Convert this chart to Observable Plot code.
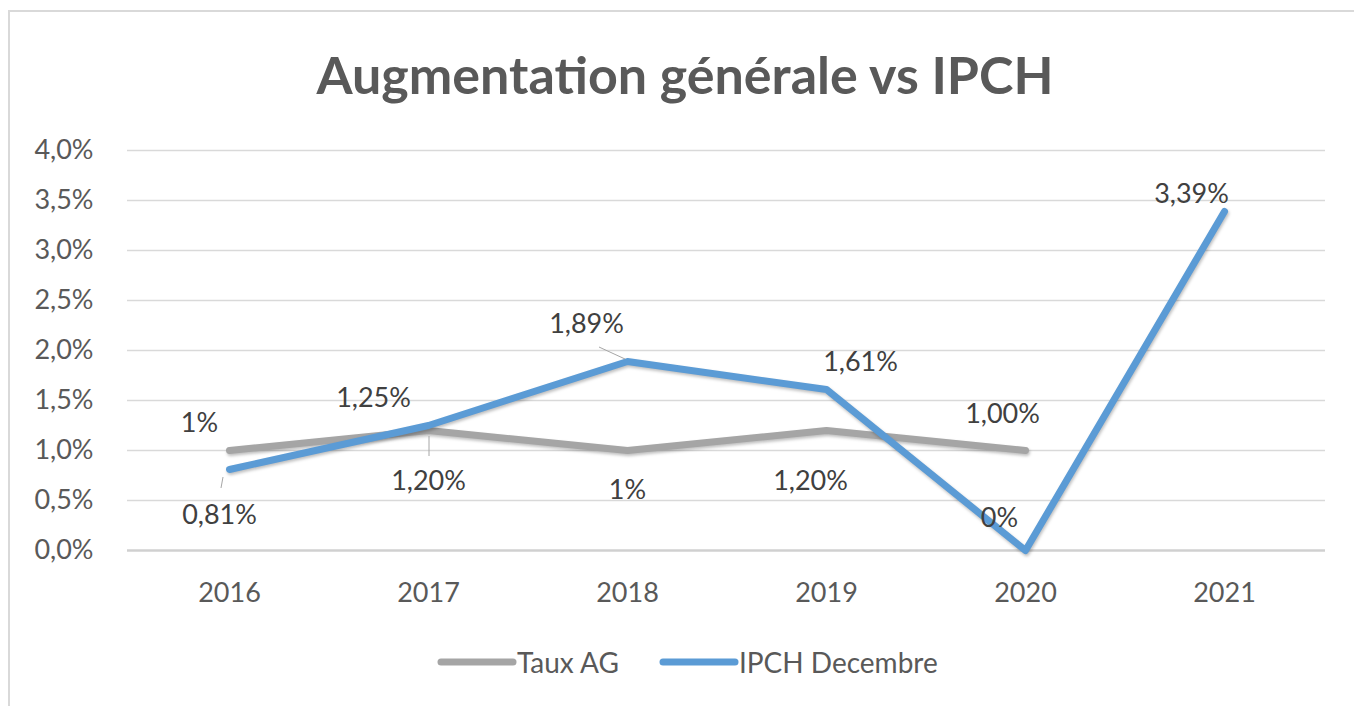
<!DOCTYPE html>
<html>
<head>
<meta charset="utf-8">
<script src="https://cdn.jsdelivr.net/npm/d3@7"></script>
<script src="https://cdn.jsdelivr.net/npm/@observablehq/plot@0.6"></script>
<style>
  body { margin: 0; background: #fff; font-family: Lato, "Open Sans", sans-serif; }
  #wrap { position: relative; width: 1354px; height: 706px; overflow: hidden; background: #fff; }
  #frame { position: absolute; left: 8px; top: 10px; width: 1400px; height: 800px;
           border-left: 2px solid #d9d9d9; border-top: 2px solid #d9d9d9; box-sizing: border-box; }
  #title { position: absolute; left: 0; top: 48px; width: 1370px; text-align: center;
           font-size: 52px; line-height: 52px; font-weight: 700; color: #595959; }
  #chart { position: absolute; left: 0; top: 130px; }
  #legend { position: absolute; left: 437px; top: 648px; display: flex; align-items: center;
            font-size: 28px; line-height: 28px; color: #595959; }
  #legend .item { display: flex; align-items: center; }
  #legend svg { display: block; }
  #chart svg g[aria-label="line"] path { filter: drop-shadow(1px 2px 1.5px rgba(0,0,0,0.25)); }
</style>
</head>
<body>
<div id="wrap">
  <div id="frame"></div>
  <div id="title">Augmentation générale vs IPCH</div>
  <div id="chart"></div>
  <div id="legend"></div>
</div>
<script>
// ---- data ----
const years = ["2016", "2017", "2018", "2019", "2020", "2021"];
const tauxAG = [1.0, 1.2, 1.0, 1.2, 1.0, null];
const ipchDecembre = [0.81, 1.25, 1.89, 1.61, 0.0, 3.39];
const tauxLabels = ["1%", "1,20%", "1%", "1,20%", "1,00%", null];
const ipchLabels = ["0,81%", "1,25%", "1,89%", "1,61%", "0%", "3,39%"];
const yTicks = [0, 0.5, 1, 1.5, 2, 2.5, 3, 3.5, 4];
const seriesNames = ["Taux AG", "IPCH Decembre"];

// ---- label placement (pixel offsets, styling only) ----
const tauxOffsets = [[-30, -27], [0, 51], [0, 40], [-16, 51], [-23, -36], null];
const ipchOffsets = [[-10, 46], [-55, -27], [-41, -37], [34, -27], [-26, -32], [-33, -17]];
// leader lines: [series, index, [x1,y1], [x2,y2]] pixel offsets from the point
const leaders = [
  ["taux", 1, [1, 6], [1, 26]],
  ["ipch", 0, [-6, 8], [-8, 19]],
  ["ipch", 2, [-28, -14], [-2, -2]]
];

const colors = { taux: "#a5a5a5", ipch: "#5b9bd5" };
const FS = 27;

const tauxRows = years.map((y, i) => ({ year: y, value: tauxAG[i], label: tauxLabels[i], i }))
  .filter(d => d.value != null);
const ipchRows = years.map((y, i) => ({ year: y, value: ipchDecembre[i], label: ipchLabels[i], i }));

const fmtPct = d => d.toFixed(1).replace(".", ",") + "%";

const labelMarks = [];
tauxRows.forEach(d => {
  const [dx, dy] = tauxOffsets[d.i];
  labelMarks.push(Plot.text([d], { x: "year", y: "value", text: "label", dx, dy,
    fontSize: FS, fill: "#404040" }));
});
ipchRows.forEach(d => {
  const [dx, dy] = ipchOffsets[d.i];
  labelMarks.push(Plot.text([d], { x: "year", y: "value", text: "label", dx, dy,
    fontSize: FS, fill: "#404040" }));
});

const leaderMark = (index, scales) => {
  const g = d3.create("svg:g").attr("aria-label", "leaders");
  leaders.forEach(([s, i, a, b]) => {
    const v = s === "taux" ? tauxAG[i] : ipchDecembre[i];
    const px = scales.x(years[i]);
    const py = scales.y(v);
    g.append("line")
      .attr("x1", px + a[0]).attr("y1", py + a[1])
      .attr("x2", px + b[0]).attr("y2", py + b[1])
      .attr("stroke", "#a6a6a6").attr("stroke-width", 1);
  });
  return g.node();
};

const plot = Plot.plot({
  width: 1354,
  height: 480,
  marginTop: 20,
  marginBottom: 60,
  marginLeft: 127,
  marginRight: 29,
  style: { fontFamily: "Lato, 'Open Sans', sans-serif", background: "transparent", overflow: "visible" },
  x: { type: "point", domain: years, padding: 0.5 },
  y: { domain: [0, 4] },
  marks: [
    Plot.ruleY(yTicks.filter(t => t > 0), { stroke: "#d9d9d9", strokeWidth: 1.5 }),
    Plot.ruleY([0], { stroke: "#d0d0d0", strokeWidth: 2.5 }),
    Plot.axisY({ ticks: yTicks, tickFormat: fmtPct, tickSize: 0, tickPadding: 34,
      fontSize: FS, color: "#595959", label: null }),
    Plot.axisX({ tickSize: 0, tickPadding: 32, fontSize: FS, color: "#595959", label: null }),
    Plot.line(tauxRows, { x: "year", y: "value", stroke: colors.taux, strokeWidth: 7,
      strokeLinecap: "round", strokeLinejoin: "round" }),
    Plot.line(ipchRows, { x: "year", y: "value", stroke: colors.ipch, strokeWidth: 7,
      strokeLinecap: "round", strokeLinejoin: "round" }),
    leaderMark,
    ...labelMarks
  ]
});
document.getElementById("chart").appendChild(plot);

// ---- legend ----
const legend = d3.select("#legend");
[["taux", seriesNames[0]], ["ipch", seriesNames[1]]].forEach(([k, name], j) => {
  const item = legend.append("div").attr("class", "item")
    .style("margin-left", j === 0 ? "0px" : "40px");
  const s = item.append("svg").attr("width", 80).attr("height", 12);
  s.append("line").attr("x1", 4).attr("x2", 76).attr("y1", 6).attr("y2", 6)
    .attr("stroke", colors[k]).attr("stroke-width", 7).attr("stroke-linecap", "round");
  item.append("span").text(name);
});
</script>
</body>
</html>
